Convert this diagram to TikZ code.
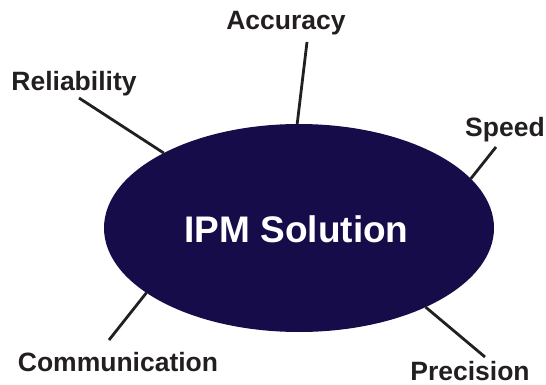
\documentclass[tikz,border=0pt]{standalone}
\usepackage{fontspec}
\setmainfont{Liberation Sans}
\usetikzlibrary{shapes.geometric}
\definecolor{ipmblue}{RGB}{22,12,74}
\definecolor{inkgray}{RGB}{35,31,32}

\begin{document}
\begin{tikzpicture}[x=1pt,y=-1pt,
    factor/.style={anchor=base,inner sep=0pt,text=inkgray,font=\fontsize{26.5}{30}\selectfont\bfseries},
    spoke/.style={draw=inkgray,line width=2.8pt}]
      \useasboundingbox (0,0) rectangle (546,385);
      \node[ellipse,fill=ipmblue,minimum width=390pt,minimum height=208pt,inner sep=0pt,outer sep=0pt] (ipm) at (299,228) {};
      \node[anchor=base,text=white,font=\fontsize{37}{40}\selectfont\bfseries,inner sep=0pt] (title) at (296.5,242) {IPM Solution};
      %factors round the solution
      \node[factor] (accuracy) at (286,30) {Accuracy};
      \node[factor] (reliability) at (74,91) {Reliability};
      \node[factor] (speed) at (505,136) {Speed};
      \node[factor] (communication) at (118,371) {Communication};
      \node[factor] (precision) at (470,380.5) {Precision};
      \coordinate (accuracy-end) at (307,42);
      \coordinate (reliability-end) at (79,98);
      \coordinate (speed-end) at (496,147);
      \coordinate (communication-end) at (109,340);
      \coordinate (precision-end) at (485,357);
      \draw[spoke] (accuracy-end)--(ipm.91.7);
      \draw[spoke] (reliability-end)--(ipm.151.1);
      \draw[spoke] (speed-end)--(ipm.16.1);
      \draw[spoke] (communication-end)--(ipm.203);
      \draw[spoke] (precision-end)--(ipm.328.3);
    \end{tikzpicture}
\end{document}
